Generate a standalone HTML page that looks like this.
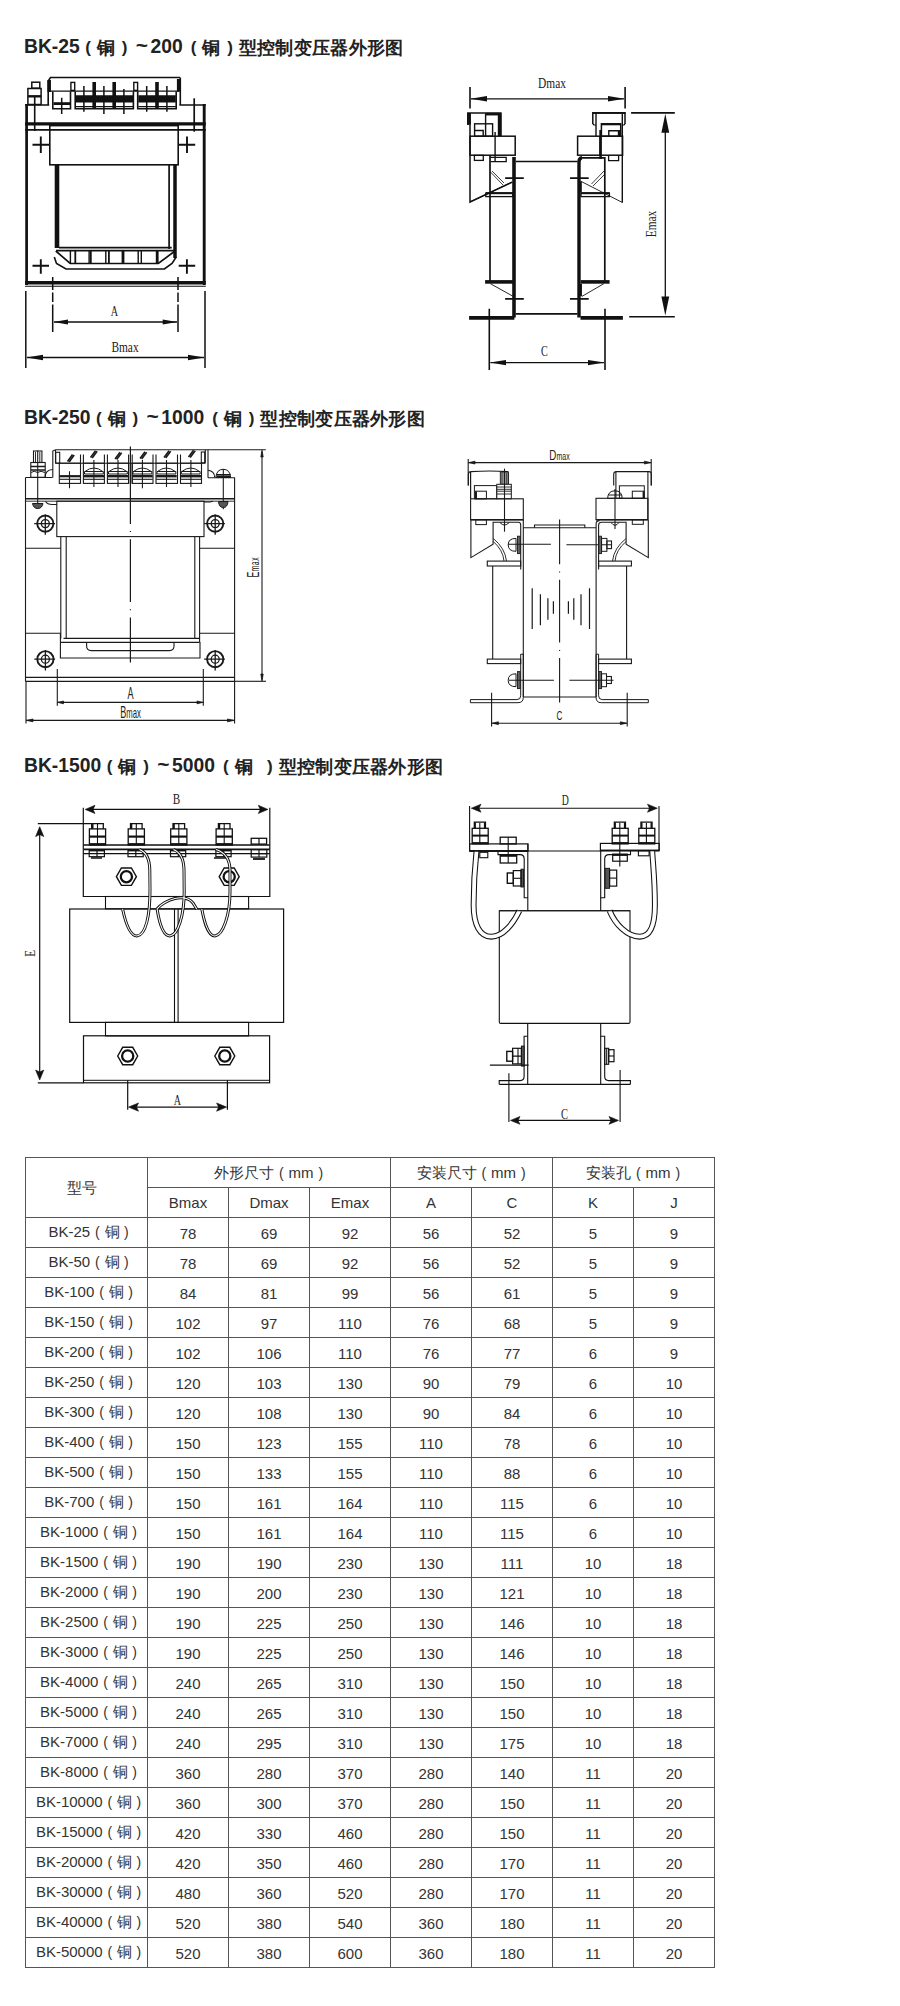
<!DOCTYPE html>
<html><head><meta charset="utf-8">
<style>
html,body{margin:0;padding:0;background:#fff;}
body{width:900px;height:2006px;position:relative;overflow:hidden;font-family:"Liberation Sans",sans-serif;color:#333;}
.h{position:absolute;left:24px;font-weight:bold;font-size:18px;line-height:20px;color:#222;white-space:nowrap;}
.h span{display:inline-block;vertical-align:top;}
.hl1{letter-spacing:0px;font-size:19.3px;}
.hc{width:18.3px;text-align:center;font-size:18.3px;position:relative;top:1px;left:1px;}
.hp{width:18.3px;text-align:center;font-size:17px;position:relative;top:1px;left:1.5px;}
.ht{font-size:21px;top:-2px;left:0.5px;}
.hl{position:absolute;height:1px;background:#555;}
.vl{position:absolute;width:1px;background:#555;}
.c{position:absolute;height:29px;line-height:29px;text-align:center;font-size:15px;color:#333;white-space:nowrap;}
.m{line-height:27px;padding-left:9px;box-sizing:border-box;}
.hd{padding-left:4px;box-sizing:border-box;}
.tp{display:inline-block;width:14.5px;text-align:center;font-size:14px;}
.tc{display:inline-block;width:14.5px;text-align:center;font-size:14.5px;}
.n{line-height:31px;}
svg{position:absolute;left:0;top:0;}
</style></head><body>
<div class="h" style="top:37px"><span class="hl1" style="width:53.34px">BK-25</span><span class="hp">(</span><span class="hc">铜</span><span class="hp">)</span><span class="hp ht">~</span><span class="hl1" style="width:32.31px">200</span><span class="hp">(</span><span class="hc">铜</span><span class="hp">)</span><span class="hc">型</span><span class="hc">控</span><span class="hc">制</span><span class="hc">变</span><span class="hc">压</span><span class="hc">器</span><span class="hc">外</span><span class="hc">形</span><span class="hc">图</span></div>
<div class="h" style="top:408px"><span class="hl1" style="width:64.11px">BK-250</span><span class="hp">(</span><span class="hc">铜</span><span class="hp">)</span><span class="hp ht">~</span><span class="hl1" style="width:43.08px">1000</span><span class="hp">(</span><span class="hc">铜</span><span class="hp">)</span><span class="hc">型</span><span class="hc">控</span><span class="hc">制</span><span class="hc">变</span><span class="hc">压</span><span class="hc">器</span><span class="hc">外</span><span class="hc">形</span><span class="hc">图</span></div>
<div class="h" style="top:756px"><span class="hl1" style="width:74.88px">BK-1500</span><span class="hp">(</span><span class="hc">铜</span><span class="hp">)</span><span class="hp ht">~</span><span class="hl1" style="width:43.08px">5000</span><span class="hp">(</span><span class="hc">铜</span><span class="hp" style="width:7.5px"></span><span class="hp">)</span><span class="hc">型</span><span class="hc">控</span><span class="hc">制</span><span class="hc">变</span><span class="hc">压</span><span class="hc">器</span><span class="hc">外</span><span class="hc">形</span><span class="hc">图</span></div>
<svg width="900" height="1150" viewBox="0 0 900 1150"><g stroke="#111" fill="none" stroke-linecap="butt">
<!-- outer frame -->
<path d="M26.6,104 V285" stroke-width="2.7"/>
<path d="M204.2,104 V285" stroke-width="2.9"/>
<path d="M25,104.9 H49.2 M179.4,104.9 H205.8" stroke-width="1.5"/>
<path d="M25,123.9 H205.8" stroke-width="3.4"/>
<path d="M25,129.8 H205.8" stroke-width="1.7"/>
<path d="M25,282.8 H205.8" stroke-width="3.4"/>
<path d="M25,286.2 H205.8" stroke-width="1.1"/>
<!-- inner verticals in frame top -->
<path d="M34.7,97 V131" stroke-width="1.6"/>
<path d="M194.2,98.3 V131.7" stroke-width="1.7"/>
<!-- small left terminal -->
<rect x="31.8" y="82.2" width="8" height="6" stroke-width="1.5"/>
<rect x="27.9" y="88.5" width="13.2" height="16" stroke-width="1.5"/>
<path d="M27.9,96.3 H41.1" stroke-width="2.4"/>
<!-- terminal block -->
<path d="M48.2,104.9 V81 L50.5,77.5 H180" stroke-width="1.6"/>
<path d="M180.3,104.9 V77.5" stroke-width="1.6"/>
<path d="M178.9,79 V91.7" stroke-width="4"/>
<path d="M49.2,80 V92" stroke-width="3.5"/>
<path d="M50,91.2 H179" stroke-width="1.2"/>
<!-- slots -->
<path d="M52.8,91.5 V108.7 H70.5 V91.5" stroke-width="1.6"/>
<path d="M75.2,91.5 V108.7 H133.4 V91.5" stroke-width="1.6"/>
<path d="M137.7,91.5 V108.7 H176.2 V91.5" stroke-width="1.6"/>
<path d="M53.5,103.6 H70" stroke-width="2.8"/>
<path d="M75.8,98.8 H133 M138.3,98.8 H175.8" stroke-width="7.2"/>
<path d="M75.8,106.6 H133 M138.3,106.6 H175.8" stroke-width="1.2"/>
<rect x="70.9" y="82.4" width="3.8" height="8" stroke-width="1.4"/>
<rect x="133.8" y="82.4" width="3.8" height="8" stroke-width="1.4"/>
<path d="M94.2,82 V108.5 M114.2,82 V108.5 M157,82 V108.5" stroke-width="3.6"/>
<path d="M61.7,97.8 V113.9 M83.9,86 V111.8 M103.9,86 V113.9 M123.9,89 V113.9 M146.7,86 V111.8 M166.9,86 V111.8" stroke-width="1.5"/>
<!-- coil -->
<rect x="49.8" y="125.6" width="128.4" height="39.2" stroke-width="1.6"/>
<path d="M57,165 V248" stroke-width="4.6"/>
<path d="M169.1,165 V249" stroke-width="1.7"/>
<path d="M175,165 V258" stroke-width="3.5"/>
<path d="M59,247.7 H171.7" stroke-width="1.8"/>
<path d="M56,250.7 H175" stroke-width="1.8"/>
<!-- bobbin -->
<path d="M55.8,251 L70.2,263.5 H158.3 L175,251" stroke-width="1.7"/>
<path d="M54.3,257 L56.5,263.5 L66,269 H164.4 L172,263.5 L176.2,257" stroke-width="1.6"/>
<path d="M70.4,251 V263.5 M89.1,251 V263.5 M105.8,251 V263.5 M138.2,251 V263.5 M141.3,251 V263.5" stroke-width="1.4"/>
<path d="M75.3,251 V263.5 M90.8,251 V263.5 M108.9,251 V263.5" stroke-width="1.8"/>
<path d="M123,251 V263.5 M157.2,251 V263.5" stroke-width="2.8"/>
<!-- crosses -->
<path d="M32.5,144.7 H49 M40.8,136.5 V153 M178.7,144.7 H195.2 M187,136.5 V153 M32.5,265.8 H49 M40.8,259.3 V273.8 M178.7,265.8 H195.2 M186.9,259.3 V273.8" stroke-width="1.9"/>
<!-- dimension A -->
<path d="M52.7,277 V290 M52.7,292.5 V302 M52.7,304.5 V332" stroke-width="1.5"/>
<path d="M178,277 V290 M178,292.5 V302 M178,304.5 V332" stroke-width="1.5"/>
<path d="M54,322 H177" stroke-width="1.3"/>
<path d="M53.5,322 L68,319.6 L68,324.4 Z M177.2,322 L162.7,319.6 L162.7,324.4 Z" fill="#111" stroke="none"/>
<!-- dimension Bmax -->
<path d="M25.8,291 V368 M205,291 V368" stroke-width="1.5"/>
<path d="M27,357.5 H204" stroke-width="1.3"/>
<path d="M26.5,357.5 L43,354.8 L43,360.2 Z M204.3,357.5 L188,354.8 L188,360.2 Z" fill="#111" stroke="none"/>
</g>
<text transform="translate(114.5,316) scale(0.85,1.3)" font-family="Liberation Serif" font-size="12" fill="#222" text-anchor="middle">A</text>
<text transform="translate(125,352) scale(0.95,1.3)" font-family="Liberation Serif" font-size="12" fill="#222" text-anchor="middle">Bmax</text>
<g stroke="#111" fill="none">
<!-- Dmax -->
<path d="M470,87 V108.6 M625.1,87 V108.6" stroke-width="1.6"/>
<path d="M471,98.8 H624" stroke-width="1.3"/>
<path d="M470.5,98.8 L487,96 L487,101.6 Z M624.6,98.8 L608,96 L608,101.6 Z" fill="#111" stroke="none"/>
<!-- Emax -->
<path d="M631.1,112.9 H674.8 M629.2,316.7 H674.8" stroke-width="1.6"/>
<path d="M665.3,130 V298" stroke-width="1.3"/>
<path d="M665.3,113.8 L661.4,132.7 H669.2 Z M665.3,315.6 L661.4,296.6 H669.2 Z" fill="#111" stroke="none"/>
<!-- left post cap -->
<path d="M467.9,125 V113 H500.8 V136" stroke-width="1.7"/>
<path d="M469.1,113 V124.6" stroke-width="3.5"/>
<path d="M499.6,113 V136" stroke-width="3.6"/>
<path d="M485.6,137 V114 H499" stroke-width="1.4"/>
<path d="M486,114.2 H499" stroke-width="2.5"/>
<rect x="474.6" y="123.8" width="18" height="12.4" stroke-width="1.4"/>
<path d="M474.6,130.5 H483.2 V136" stroke-width="1.4"/>
<path d="M495.1,132 V161.6" stroke-width="1.4"/>
<!-- left post main box -->
<rect x="470" y="136.2" width="45.2" height="19" stroke-width="1.5"/>
<path d="M470,113 V202 L512.2,182.1" stroke-width="1.5"/>
<path d="M470,202 L512.2,182.1" stroke-width="0.9"/>
<rect x="474.4" y="155.4" width="8.9" height="5" stroke-width="1.3"/>
<path d="M490,157.4 H506.2 V161.6 H490.4" stroke-width="1.3"/>
<path d="M490,155 V281" stroke-width="1.7"/>
<path d="M514,157 V317.5" stroke-width="3.6"/>
<path d="M490.5,172 L503,185 M492,171 L504,183" stroke-width="0.8"/>
<rect x="485.8" y="193" width="27" height="3.6" stroke-width="1.3"/>
<path d="M486,193.2 H513" stroke-width="2"/>
<path d="M505.1,178.1 H523.8 M505.1,298.8 H523.8" stroke-width="1.7"/>
<path d="M485.1,281.9 H514" stroke-width="3.6"/>
<path d="M490.4,283.7 L512.7,296.1" stroke-width="0.9"/>
<path d="M469.1,317.9 H514.4" stroke-width="3.6"/>
<!-- center lines -->
<path d="M515.8,161.5 H577.6 M515.8,313.9 H577.6" stroke-width="1.7"/>
<!-- right post cap -->
<path d="M592.8,124 V113 H625 V124" stroke-width="1.5"/>
<path d="M592.2,112.9 H625.6" stroke-width="1.8"/>
<path d="M596,113 V136 M622.3,113 V202.6" stroke-width="1.4"/>
<path d="M592.8,124 L594,125 H596 M625,124 L624,125 H622.3" stroke-width="1.2"/>
<rect x="601.4" y="123.8" width="19.3" height="12.4" stroke-width="1.5"/>
<path d="M601.4,124.3 H620.7" stroke-width="2"/>
<path d="M608.8,136 V130.8 H619.8 V136" stroke-width="1.4"/>
<path d="M619,131 V136" stroke-width="2.4"/>
<path d="M600.6,130 V159" stroke-width="2.6"/>
<rect x="577.6" y="136.2" width="45" height="19" stroke-width="1.5"/>
<path d="M600,136.2 V155.2" stroke-width="1.4"/>
<path d="M608.6,155.4 V160.6 H618.6 V155.4" stroke-width="1.3"/>
<path d="M582,157.8 H604.8 V281" stroke-width="1.7"/>
<path d="M579,317.5 V162 Q579,158 582,157.8" stroke-width="3.4"/>
<path d="M622.6,202.6 L580.7,181.2" stroke-width="0.9"/>
<path d="M580.7,181.5 V192" stroke-width="2.2"/>
<path d="M604,171 L591.5,184 M604,175 L593,186" stroke-width="0.8"/>
<rect x="581" y="193" width="28.4" height="3.6" stroke-width="1.3"/>
<path d="M581,193.2 H609.4" stroke-width="2"/>
<path d="M570,178.1 H588.7 M570,298.8 H588.7" stroke-width="1.7"/>
<path d="M580.7,281.9 H609.6" stroke-width="3.6"/>
<path d="M603.8,283.7 L581.6,296.6" stroke-width="0.9"/>
<path d="M580.7,296 V284" stroke-width="2.5"/>
<path d="M580.5,317.9 H622.9" stroke-width="3.6"/>
<!-- C dim -->
<path d="M489.3,308.8 V370 M605,308.8 V370" stroke-width="1.6"/>
<path d="M490.5,362.6 H604" stroke-width="1.3"/>
<path d="M489.8,362.6 L506,360 L506,365.2 Z M604.5,362.6 L588,360 L588,365.2 Z" fill="#111" stroke="none"/>
</g>
<text transform="translate(552,88) scale(0.95,1.3)" font-family="Liberation Serif" font-size="12" fill="#222" text-anchor="middle">Dmax</text>
<text transform="translate(544.5,356) scale(0.85,1.3)" font-family="Liberation Serif" font-size="12" fill="#222" text-anchor="middle">C</text>
<text transform="translate(655.8,224) rotate(-90) scale(0.95,1.3)" font-family="Liberation Serif" font-size="12" fill="#222" text-anchor="middle">Emax</text>
<g stroke="#1a1a1a" fill="none" stroke-width="1.1">
<!-- top line -->
<path d="M55.5,449.8 H265.8"/>
<!-- frame -->
<path d="M25.5,477.5 V681.5 M234.6,477.5 V723.5"/>
<path d="M25.5,477.5 H52.6 M208,477.8 H234.6"/>
<path d="M25.5,498.7 H234.6" stroke-width="1.6"/>
<path d="M25.5,501.2 H234.6" stroke-width="0.9"/>
<path d="M25.5,548.2 H60.8 M199.6,548.2 H234.6 M25.5,633.2 H60.8 M199.6,633.2 H234.6"/>
<path d="M25.5,677.4 H234.6 M25.5,681.4 H234.6" stroke-width="1.2"/>
<!-- terminal block -->
<path d="M52.8,477.5 V451 L55.5,449.8 M55.5,449.8 V463.2 M208,449.8 V477.8 M205.3,450 V463.2"/>
<path d="M55.5,463.2 H205.3"/>
<rect x="55.7" y="452.3" width="4" height="10.8"/>
<rect x="201.3" y="452" width="3.4" height="10.8"/>
<rect x="59.3" y="463.2" width="21.2" height="20.2"/>
<rect x="83.4" y="463.2" width="21" height="20.2"/>
<rect x="107.4" y="463.2" width="21.2" height="20.2"/>
<rect x="132.2" y="463.2" width="20.8" height="20.2"/>
<rect x="156" y="463.2" width="21.5" height="20.2"/>
<rect x="180.5" y="463.2" width="21" height="20.2"/>
<path d="M80.5,454.5 V463.2 M83.4,454.5 V463.2 M104.4,454.5 V463.2 M107.4,454.5 V463.2 M128.6,454.5 V483.4 M132.2,454.5 V483.4 M153,454.5 V463.2 M156,454.5 V463.2 M177.5,454.5 V463.2 M180.5,454.5 V463.2"/>
<path d="M59.5,476.2 H80.3" stroke-width="2.2"/>
<path d="M59.5,479.3 H80.3"/>
<g id="th">
<path d="M85,471.5 Q93.9,464.5 102.8,471.5 Z M84.5,471.5 H103.3 V474 H84.5 Z" stroke-width="1"/>
<path d="M83.6,476.2 H104.2" stroke-width="2.4"/>
<path d="M83.6,479.3 H104.2"/>
</g>
<use href="#th" x="24"/>
<use href="#th" x="48.5"/>
<use href="#th" x="72.5"/>
<use href="#th" x="96.8"/>
<path d="M69.5,471.3 V488.3 M93.9,460 V487 M118,460 V487 M142.4,460 V488.3 M166.5,460 V487 M190.9,460 V487"/>
<!-- hatches -->
<path d="M67.5,461.5 L72.5,454.5 M69.2,462 L74.2,455 M90.5,457.5 L95.5,450.8 M92.2,458 L97.2,451.3 M115,459 L120,452.3 M116.7,459.5 L121.7,452.8 M140,458.5 L145,451.8 M141.7,459 L146.7,452.3 M164,457.5 L169,450.8 M165.7,458 L170.7,451.3 M188.5,457 L193.5,450.3 M190.2,457.5 L195.2,450.8" stroke-width="1.5"/>
<!-- left bolt -->
<path d="M37.7,450.4 V509"/>
<rect x="33.5" y="451" width="8.4" height="11.5" stroke-width="1.1"/>
<path d="M35.5,452 V462 M39.8,452 V462" stroke-width="0.9"/>
<rect x="30.8" y="462.5" width="14.4" height="14.8"/>
<path d="M30.8,466.5 H45.2 M30.8,470 H45.2" stroke-width="1.4"/>
<path d="M31.2,472.5 Q34,470 37.5,472.5 Q41,470 44.8,472.5" stroke-width="1"/>
<path d="M32.5,503.5 H43 Q42,508.5 37.7,508.5 Q33.5,508.5 32.5,503.5 Z" fill="#555" stroke-width="1"/>
<path d="M45.2,477 Q45.2,470 52.6,469.5"/>
<!-- right bolt -->
<path d="M223.3,469 V509.3"/>
<path d="M215.8,477.5 Q216.5,469.3 223.3,469.3 Q230,469.3 230.7,477.5 Z M216,474.5 H230.5" stroke-width="1"/>
<path d="M216.5,476.2 H230" stroke-width="1.8"/>
<path d="M218.5,501.5 H228 Q227.5,507.5 223.3,507.5 Q219,507.5 218.5,501.5 Z" fill="#555" stroke-width="1"/>
<path d="M208,470.3 Q214.5,471 214.7,477.5"/>
<!-- coil box -->
<rect x="56.8" y="501.2" width="147.2" height="35.4"/>
<path d="M45.5,501.5 Q47.5,504.5 52,504.5 H56.8 M204,502 H210 Q212,501.5 213,501.2"/>
<path d="M60.8,536.6 V638.5 M66.2,536.6 V638.5 M194.8,536.6 V638.5 M199.6,536.6 V642.3"/>
<path d="M63.5,638.3 H199.6" stroke-width="1.3"/>
<path d="M60.8,642.3 H199.6" stroke-width="1.2"/>
<path d="M60.4,633.2 V658 H200 V642"/>
<path d="M86.6,642.3 V646 Q86.6,650.6 91.2,650.6 H169.5 Q174,650.6 174,646 V642.3"/>
<!-- circles -->
<g id="ci">
<circle cx="45.3" cy="523.6" r="8.1" stroke-width="1.9"/>
<circle cx="45.3" cy="523.6" r="4" stroke-width="1.3"/>
<path d="M34.2,523.6 H55 M45.3,514.5 V534.8" stroke-width="1.3"/>
</g>
<use href="#ci" x="169.9"/>
<use href="#ci" x="0.1" y="135.6"/>
<use href="#ci" x="169.9" y="135.6"/>
<!-- center dash-dot -->
<path d="M130.4,446.5 V523.9 M130.4,531.1 V532.1 M130.4,539.3 V602.1 M130.4,609.3 V610.3 M130.4,617.6 V662.5" stroke-width="1.2"/>
<!-- Emax -->
<path d="M262,452 V679.5"/>
<path d="M262,450.2 L260.8,457 H263.2 Z M262,681 L260.8,674 H263.2 Z" fill="#1a1a1a" stroke-width="0.8"/>
<path d="M234.6,681.3 H266"/>
<!-- A dim -->
<path d="M57.3,669 V705.7 M203.3,669 V705.7"/>
<path d="M57.3,702.4 H203.3"/>
<path d="M58,702.4 L63.5,701 V703.8 Z M202.6,702.4 L197,701 V703.8 Z" fill="#1a1a1a" stroke-width="0.8"/>
<!-- Bmax dim -->
<path d="M26,681.5 V723.5"/>
<path d="M26,720.4 H234.6"/>
<path d="M26.7,720.4 L33,719 V721.8 Z M233.9,720.4 L227.5,719 V721.8 Z" fill="#1a1a1a" stroke-width="0.8"/>
</g>
<g font-family="Liberation Sans" fill="#222">
<text transform="translate(130.5,698.5) scale(0.55,1)" text-anchor="middle" font-size="16.5">A</text>
<text transform="translate(130.5,717.5) scale(0.55,1)" text-anchor="middle"><tspan font-size="16.5">B</tspan><tspan font-size="14">max</tspan></text>
<text transform="translate(258.6,567) rotate(-90) scale(0.55,1)" text-anchor="middle"><tspan font-size="16">E</tspan><tspan font-size="12.5" letter-spacing="1.2">max</tspan></text>
</g>
<g stroke="#1a1a1a" fill="none" stroke-width="1.1">
<!-- Dmax -->
<path d="M468.2,459 V485.4 M651.2,459 V485.4"/>
<path d="M468.2,462.6 H651.2"/>
<path d="M469,462.6 L475,461.2 V464 Z M650.4,462.6 L644.4,461.2 V464 Z" fill="#1a1a1a" stroke-width="0.8"/>
<!-- left cap -->
<path d="M468.4,485.4 V474 Q468.6,471.6 471,471.6 Q490,470.5 507.5,471.6 Q508.4,472 508.4,474 V485.6"/>
<path d="M470.6,471.6 V498.8" stroke-width="1.2"/>
<rect x="474.4" y="485.6" width="22.3" height="13.2" stroke-width="1"/>
<rect x="475.6" y="491.2" width="10.8" height="7.6" stroke-width="1"/>
<path d="M476,491.5 V498.8" stroke-width="2"/>
<!-- left bolt -->
<rect x="500.3" y="472" width="8" height="12.3" fill="#999" stroke-width="0.9"/>
<path d="M502,473 V484 M506.6,473 V484" stroke="#333" stroke-width="0.8"/>
<rect x="496.8" y="484.3" width="14.5" height="14.5" fill="#fff" stroke-width="1"/>
<path d="M496.8,487 H511.3 M496.8,489.3 H511.3 M496.8,491.2 H511.3 M496.8,494 H511.3" stroke-width="0.9"/>
<path d="M504.5,468.6 V531.7"/>
<!-- left main box -->
<rect x="470.6" y="498.8" width="52.7" height="20.9" stroke-width="1.1"/>
<path d="M470.6,519.7 H523.3" stroke-width="1.5"/>
<rect x="475.8" y="519.7" width="10.6" height="4.9" stroke-width="1"/>
<path d="M500,522.6 Q504.5,527.5 509,522.6" stroke-width="1"/>
<path d="M470.9,519.7 V557.6 L493.1,544.2 V522.3 H518.5 Q520.7,522.5 520.7,525 V569.6"/>
<path d="M523.3,519.7 V696.9"/>
<path d="M493.3,538.5 Q505,548 506.5,561 M493.3,541.5 Q503,550 504,561" stroke-width="0.9"/>
<path d="M516,538.4 Q508.2,538.4 508.2,544.8 Q508.2,551.3 516,551.3 Z" stroke-width="1"/>
<rect x="517.5" y="536.2" width="2.7" height="17.4" fill="#666" stroke-width="0.9"/>
<path d="M508.2,544.3 H550.9 M566.4,544.7 H611"/>
<rect x="487.3" y="561.1" width="33.4" height="4.9" stroke-width="1.1"/>
<path d="M492.7,566 V659.1 M626.6,566 V659.1"/>
<!-- core plate -->
<path d="M523.3,527.7 H596.1"/>
<path d="M534.5,527.7 V525 H584.8 V527.7"/>
<!-- right cap -->
<path d="M613.7,485.4 V474 Q613.9,471.6 616.3,471.6 H649 Q651.3,471.6 651.3,474 V485.4"/>
<path d="M615.9,471.6 V498.3 M647.9,471.6 V519.7" stroke-width="1.1"/>
<rect x="619.4" y="485.8" width="24.9" height="12.5" stroke-width="1"/>
<rect x="632.3" y="491.2" width="11.6" height="7.1" stroke-width="1"/>
<path d="M643.6,491.5 V498.3" stroke-width="2"/>
<path d="M607.6,498.3 Q608,490.8 615,490.8 Q622,490.8 622.2,498.3 Z M608.5,495 H621.5" stroke-width="1"/>
<path d="M615,489 V529"/>
<rect x="596" y="498.3" width="51.9" height="21.4" stroke-width="1.1"/>
<path d="M596,519.7 H647.9" stroke-width="1.5"/>
<rect x="632.3" y="519.7" width="11" height="4.6" stroke-width="1"/>
<path d="M611,522.5 Q615,528 619,522.5" stroke-width="1"/>
<path d="M596.1,696.9 V524 Q596.1,520.6 599.5,520.6"/>
<path d="M598.6,569.6 V525 Q598.8,522.3 601.5,522.3 H626.1 V544.2 L648.3,557.6 V519.7"/>
<path d="M626.1,538.5 Q614,548 612.5,561 M626.1,541.5 Q616,550 615,561" stroke-width="0.9"/>
<rect x="598.8" y="536.2" width="2.7" height="17.4" fill="#666" stroke-width="0.9"/>
<rect x="601.6" y="538.4" width="5.3" height="12.9" stroke-width="1"/>
<rect x="606.9" y="541" width="4.6" height="7.6" stroke-width="1.1"/>
<rect x="598.6" y="561.1" width="32.8" height="4.9" stroke-width="1.1"/>
<!-- hatch lines -->
<path d="M532.2,588.3 V629.1 M540.4,594.2 V625.2 M547.9,598.2 V619.7 M553.4,601.2 V613.7 M568.4,601.2 V613.7 M573.8,598.2 V619.7 M581,594.2 V625.2 M589.5,588.3 V629.1" stroke-width="1.2"/>
<!-- center line -->
<path d="M559.6,519.5 V564.3 M559.6,571.5 V572.5 M559.6,579.8 V642.6 M559.6,649.9 V650.9 M559.6,658 V702.4" stroke-width="1.1"/>
<!-- lower brackets -->
<rect x="487.3" y="659.1" width="33.4" height="4.5" stroke-width="1.1"/>
<rect x="598.6" y="659.1" width="32.8" height="4.5" stroke-width="1.1"/>
<path d="M520.7,654.2 V695.8 Q520.7,699.6 516.9,699.6 H470.4 V702.7 H518 Q523.3,702.7 523.3,697.4 V654.2 Z" stroke-width="1"/>
<path d="M598.6,654.2 V695.8 Q598.6,699.6 602.4,699.6 H648.3 V702.7 H601.3 Q596.1,702.7 596.1,697.4 V654.2 Z" stroke-width="1"/>
<path d="M523.3,697 H596.1"/>
<path d="M516,673.8 Q508.2,673.8 508.2,680.3 Q508.2,686.7 516,686.7 Z" stroke-width="1"/>
<rect x="517.5" y="671.6" width="2.7" height="17" fill="#666" stroke-width="0.9"/>
<rect x="598.8" y="671.6" width="2.7" height="17" fill="#666" stroke-width="0.9"/>
<rect x="601.6" y="673.8" width="4.9" height="12.9" stroke-width="1"/>
<rect x="606.5" y="676.5" width="4.9" height="7" stroke-width="1.1"/>
<path d="M509,680.3 H553.9 M569.4,680.3 H613.5"/>
<!-- C dim -->
<path d="M491.6,692.7 V726.4 M627.2,692.7 V726.4"/>
<path d="M491.6,723.2 H627.2"/>
<path d="M492.4,723.2 L498.4,721.8 V724.6 Z M626.4,723.2 L620.4,721.8 V724.6 Z" fill="#1a1a1a" stroke-width="0.8"/>
</g>
<g font-family="Liberation Sans" fill="#222">
<text transform="translate(559.5,460.2) scale(0.7,1)" text-anchor="middle"><tspan font-size="14">D</tspan><tspan font-size="10">max</tspan></text>
<text transform="translate(559.5,719.5) scale(0.6,1)" text-anchor="middle" font-size="13.5">C</text>
</g>
<g stroke="#111" fill="none" stroke-width="1.2">
<!-- B dim -->
<path d="M83.3,807.8 V849.4 M269.8,807.8 V849.4"/>
<path d="M90,809.4 H262"/>
<path d="M85.2,809.4 L95,805.3 L93,809.4 L95,813.5 Z M267.9,809.4 L258.3,805.3 L260.3,809.4 L258.3,813.5 Z" fill="#111" stroke-width="0.6"/>
<!-- E dim -->
<path d="M37.8,823.7 H91.7 M37.8,1082.8 H83.5"/>
<path d="M39.7,832 V1075"/>
<path d="M39.7,826.7 L35.6,836.6 L39.7,834.6 L43.8,836.6 Z M39.7,1080 L35.6,1070 L39.7,1072 L43.8,1070 Z" fill="#111" stroke-width="0.6"/>
<!-- plate -->
<path d="M83.3,845 H269.8" stroke-width="1.4"/>
<path d="M83.3,849.4 H269.8" stroke-width="1.6"/>
<path d="M83.3,853.6 H269.8" stroke-width="1.1"/>
<!-- upper block -->
<path d="M83.3,849.4 V896.5 H269.8 V849.4"/>
<!-- bolts -->
<g id="bt">
<path d="M91.7,828.9 V823.7 H103.3 V828.9" stroke-width="1.3"/>
<path d="M92.6,824 V828.9" stroke-width="1.8"/>
<rect x="89.4" y="828.9" width="16.2" height="16.1" stroke-width="1.3"/>
<path d="M97.5,824 V845" stroke-width="1.1"/>
<path d="M89.4,836.6 H105.6" stroke-width="2.2"/>
<path d="M89.4,844 H105.6" stroke-width="1.8"/>
<rect x="89.2" y="849.6" width="15.2" height="7.1" stroke-width="1.2"/>
<path d="M97,849.6 V856.7"/>
<path d="M89.2,850.5 H104.4" stroke-width="1.8"/>
</g>
<use href="#bt" x="38.8"/>
<use href="#bt" x="81.3"/>
<use href="#bt" x="126.7"/>
<path d="M91,858 H102 M214,858 H227" stroke-width="1.5"/>
<!-- small bolt 5 -->
<rect x="251.2" y="838.3" width="15.4" height="5.8" stroke-width="1.3"/>
<path d="M259,838.3 V844"/>
<rect x="251.2" y="849.6" width="15.6" height="7.5" stroke-width="1.2"/>
<path d="M259,849.6 V857 M251.2,853.6 H266.8" stroke-width="1.1"/>
<path d="M253,859 H265" stroke-width="1.8"/>
<!-- hex nuts -->
<g id="hx">
<path d="M116.4,876.7 L121.4,868 H131.4 L136.4,876.7 L131.4,885.4 H121.4 Z" stroke-width="1.4"/>
<circle cx="126.4" cy="876.7" r="5.6" stroke-width="2.3"/>
</g>
<use href="#hx" x="102.8"/>
<!-- mid block + core -->
<rect x="105.5" y="896.5" width="143.1" height="12.3" stroke-width="1.1"/>
<rect x="69.7" y="909" width="213.9" height="113.4" stroke-width="1.2"/>
<path d="M174.5,909 V1022.4 M178.1,909 V1022.4" stroke-width="1.1"/>
<rect x="105.5" y="1022.4" width="143.1" height="13.5" stroke-width="1.1"/>
<rect x="83.5" y="1035.8" width="186.1" height="47" stroke-width="1.2"/>
<path d="M83.5,1080.3 H269.6" stroke-width="1"/>
<use href="#hx" x="1.3" y="179.3"/>
<use href="#hx" x="98.4" y="179.3"/>
<!-- A dim -->
<path d="M127.7,1080.3 V1109.7 M227.4,1080.3 V1109.7"/>
<path d="M134,1107.1 H221"/>
<path d="M128.5,1107.1 L138.5,1103 L136.5,1107.1 L138.5,1111.2 Z M226.6,1107.1 L216.6,1103 L218.6,1107.1 L216.6,1111.2 Z" fill="#111" stroke-width="0.6"/>
</g>
<!-- wires -->
<g fill="none" stroke-linecap="butt">
<g id="wires" stroke="#111" stroke-width="3">
<path d="M139.5,849.4 C146,852 149.6,858 149.8,870 L150,890 C150,915 146,935 137,936 C129,936 124.5,918 122.6,909"/>
<path d="M173.5,849.4 C180,852 183.8,858 184,870 L184.2,892 C184.2,915 178,935 170,936 C162,936 158.5,918 157.1,909 C160,905 168,900 175,898.5 C182,897 188,897 193,903 L196.7,909"/>
<path d="M216,849.4 C224,852 229.8,858 230,870 L230,892 C230,915 223,935 215,936 C207,936 203.5,918 201.8,909"/>
</g>
<g stroke="#fff" stroke-width="1.1">
<path d="M139.5,849.4 C146,852 149.6,858 149.8,870 L150,890 C150,915 146,935 137,936 C129,936 124.5,918 122.6,909"/>
<path d="M173.5,849.4 C180,852 183.8,858 184,870 L184.2,892 C184.2,915 178,935 170,936 C162,936 158.5,918 157.1,909 C160,905 168,900 175,898.5 C182,897 188,897 193,903 L196.7,909"/>
<path d="M216,849.4 C224,852 229.8,858 230,870 L230,892 C230,915 223,935 215,936 C207,936 203.5,918 201.8,909"/>
</g>
</g>
<g font-family="Liberation Serif" fill="#222">
<text transform="translate(176.5,804) scale(0.8,1)" text-anchor="middle" font-size="14">B</text>
<text transform="translate(177.5,1105) scale(0.75,1.1)" text-anchor="middle" font-size="13.5">A</text>
<text transform="translate(35,953.3) rotate(-90) scale(0.8,1)" text-anchor="middle" font-size="14">E</text>
</g>
<g stroke="#111" fill="none" stroke-width="1.1">
<!-- D dim -->
<path d="M469.6,806 V851 M659,806 V850.6"/>
<path d="M476,808.2 H653"/>
<path d="M471.3,808.2 L481,804.2 L479,808.2 L481,812.2 Z M657.3,808.2 L647.5,804.2 L649.5,808.2 L647.5,812.2 Z" fill="#111" stroke-width="0.6"/>
<!-- plates -->
<rect x="469.6" y="843.9" width="58.4" height="7.1" stroke-width="1.2"/>
<path d="M469.6,851 H528" stroke-width="1.5"/>
<rect x="600.4" y="843.4" width="58.8" height="7.2" stroke-width="1.2"/>
<path d="M600.4,850.6 H659.2" stroke-width="1.5"/>
<!-- center box -->
<path d="M528,851 H600.4"/>
<path d="M527.8,843.9 V910.7 M600.7,850.6 V910.7"/>
<!-- bolts on plates -->
<g id="b6">
<path d="M474.4,828.3 V822.1 H485.4 V828.3" stroke-width="1.4"/>
<path d="M475.2,822.5 V828.3 M484.6,822.5 V828.3" stroke-width="1.4"/>
<rect x="472.2" y="828.3" width="16" height="15.6" stroke-width="1.3"/>
<path d="M472.2,835.6 H488.2" stroke-width="2"/>
<path d="M472.2,843 H488.2" stroke-width="1.8"/>
<path d="M479.8,823 V843.9"/>
</g>
<use href="#b6" x="140"/>
<use href="#b6" x="166.6"/>
<!-- short bolt left -->
<rect x="500.2" y="837.2" width="16" height="6.7" stroke-width="1.3"/>
<path d="M508.2,837.2 V863"/>
<rect x="500.2" y="855" width="16.5" height="8" stroke-width="1.3"/>
<path d="M500.2,855.8 H516.7" stroke-width="2"/>
<rect x="479.8" y="852.3" width="8" height="5.4" stroke-width="1.1"/>
<!-- left bracket -->
<path d="M498,851 V854.6 H520 Q524.2,854.6 524.2,859 V897.8 H527.8"/>
<!-- left side bolt -->
<rect x="521" y="869.2" width="2.5" height="17.8" fill="#555" stroke-width="0.9"/>
<rect x="513.3" y="870.6" width="7.7" height="15.4" stroke-width="1.2"/>
<path d="M513.3,878.3 H521"/>
<rect x="507.3" y="873" width="6" height="10.3" stroke-width="1.4"/>
<!-- right side: under plate -->
<rect x="612.7" y="854.1" width="14.6" height="7.1" stroke-width="1.2"/>
<path d="M612.7,855 H627.3" stroke-width="1.8"/>
<path d="M619.8,843.4 V866.6"/>
<path d="M630.5,850.6 V854.6 H609 Q604.7,854.6 604.7,859 V897.8 H600.7"/>
<rect x="638.4" y="850.6" width="10.7" height="5.2" stroke-width="1.1"/>
<rect x="605.1" y="868.3" width="4.5" height="20" fill="#555" stroke-width="0.9"/>
<rect x="609.6" y="870.1" width="7.1" height="16" stroke-width="1.2"/>
<path d="M609.6,878.1 H616.7"/>
<!-- core -->
<path d="M499.3,1022 V910.7 H630 V1022 Q630,1023.4 628.6,1023.4 H500.7 Q499.3,1023.4 499.3,1022"/>
<!-- lower center box -->
<path d="M527.7,1023.4 V1084.3 M600.7,1023.4 V1084.3"/>
<path d="M499.2,1084.3 H630.4" stroke-width="1.3"/>
<!-- lower left bracket -->
<path d="M527.7,1036.3 H524.1 V1076.6 Q524.1,1080.6 520.1,1080.6 H499.2 V1084.3"/>
<rect x="521.4" y="1046.1" width="2.7" height="20" fill="#555" stroke-width="0.9"/>
<rect x="512.6" y="1048.3" width="8.8" height="15.6" stroke-width="1.2"/>
<path d="M512.6,1056.1 H521.4 M518,1048.3 V1063.9"/>
<rect x="506.8" y="1051.4" width="5.8" height="9.8" stroke-width="1.4"/>
<path d="M489.9,1065.2 H528.6" stroke-width="1.3"/>
<!-- lower right bracket -->
<path d="M600.7,1036.3 H604.7 V1076.6 Q604.7,1080.6 608.7,1080.6 H630.4 V1084.3"/>
<rect x="604.7" y="1048.3" width="4" height="16" stroke-width="1.1"/>
<path d="M606.7,1048.3 V1064.3"/>
<rect x="608.7" y="1049.7" width="5.3" height="12" stroke-width="1.2"/>
<path d="M608.7,1056 H614"/>
<!-- C dim -->
<path d="M508.9,1073.2 V1122 M620.1,1070.1 V1122"/>
<path d="M515,1120.4 H614"/>
<path d="M510.5,1120.4 L520,1116.5 L518,1120.4 L520,1124.3 Z M618.5,1120.4 L609,1116.5 L611,1120.4 L609,1124.3 Z" fill="#111" stroke-width="0.6"/>
</g>
<!-- wires -->
<g fill="none">
<g stroke="#111" stroke-width="5.9">
<path d="M476.5,851 C475,865 473.6,880 473.6,905 C473.6,925 480,936.7 491.3,936.7 C503,936.7 513,924 519.4,910.7"/>
<path d="M652.2,850.6 C653,865 654.9,880 654.9,905 C654.9,925 650,936.7 639.8,936.7 C627,936.7 615,924 609.6,910.7"/>
</g>
<g stroke="#fff" stroke-width="3.8">
<path d="M476.5,851 C475,865 473.6,880 473.6,905 C473.6,925 480,936.7 491.3,936.7 C503,936.7 513,924 519.4,910.7"/>
<path d="M652.2,850.6 C653,865 654.9,880 654.9,905 C654.9,925 650,936.7 639.8,936.7 C627,936.7 615,924 609.6,910.7"/>
</g>
<path d="M469.6,851 H528 M600.4,850.6 H659.2" stroke="#111" stroke-width="1.5"/>
<path d="M499.3,910.7 H630" stroke="#111" stroke-width="1.1"/>
</g>
<g font-family="Liberation Serif" fill="#222">
<text transform="translate(565.2,805) scale(0.7,1)" text-anchor="middle" font-size="14">D</text>
<text transform="translate(564.6,1119) scale(0.75,1.05)" text-anchor="middle" font-size="14">C</text>
</g>
</svg>
<div class="hl" style="left:25px;top:1157px;width:690px"></div>
<div class="hl" style="left:147px;top:1187px;width:568px"></div>
<div class="hl" style="left:25px;top:1217px;width:690px"></div>
<div class="hl" style="left:25px;top:1247px;width:690px"></div>
<div class="hl" style="left:25px;top:1277px;width:690px"></div>
<div class="hl" style="left:25px;top:1307px;width:690px"></div>
<div class="hl" style="left:25px;top:1337px;width:690px"></div>
<div class="hl" style="left:25px;top:1367px;width:690px"></div>
<div class="hl" style="left:25px;top:1397px;width:690px"></div>
<div class="hl" style="left:25px;top:1427px;width:690px"></div>
<div class="hl" style="left:25px;top:1457px;width:690px"></div>
<div class="hl" style="left:25px;top:1487px;width:690px"></div>
<div class="hl" style="left:25px;top:1517px;width:690px"></div>
<div class="hl" style="left:25px;top:1547px;width:690px"></div>
<div class="hl" style="left:25px;top:1577px;width:690px"></div>
<div class="hl" style="left:25px;top:1607px;width:690px"></div>
<div class="hl" style="left:25px;top:1637px;width:690px"></div>
<div class="hl" style="left:25px;top:1667px;width:690px"></div>
<div class="hl" style="left:25px;top:1697px;width:690px"></div>
<div class="hl" style="left:25px;top:1727px;width:690px"></div>
<div class="hl" style="left:25px;top:1757px;width:690px"></div>
<div class="hl" style="left:25px;top:1787px;width:690px"></div>
<div class="hl" style="left:25px;top:1817px;width:690px"></div>
<div class="hl" style="left:25px;top:1847px;width:690px"></div>
<div class="hl" style="left:25px;top:1877px;width:690px"></div>
<div class="hl" style="left:25px;top:1907px;width:690px"></div>
<div class="hl" style="left:25px;top:1937px;width:690px"></div>
<div class="hl" style="left:25px;top:1967px;width:690px"></div>
<div class="vl" style="left:25px;top:1157px;height:811px"></div>
<div class="vl" style="left:147px;top:1157px;height:811px"></div>
<div class="vl" style="left:228px;top:1187px;height:781px"></div>
<div class="vl" style="left:309px;top:1187px;height:781px"></div>
<div class="vl" style="left:390px;top:1157px;height:811px"></div>
<div class="vl" style="left:471px;top:1187px;height:781px"></div>
<div class="vl" style="left:552px;top:1157px;height:811px"></div>
<div class="vl" style="left:633px;top:1187px;height:781px"></div>
<div class="vl" style="left:714px;top:1157px;height:811px"></div>
<div class="c" style="left:21px;top:1173px;width:121px">型号</div>
<div class="c hd" style="left:148px;top:1158px;width:242px">外形尺寸<span class="tp">(</span>mm<span class="tp">)</span></div>
<div class="c hd" style="left:391px;top:1158px;width:161px">安装尺寸<span class="tp">(</span>mm<span class="tp">)</span></div>
<div class="c hd" style="left:553px;top:1158px;width:161px">安装孔<span class="tp">(</span>mm<span class="tp">)</span></div>
<div class="c" style="left:148px;top:1188px;width:80px">Bmax</div>
<div class="c" style="left:229px;top:1188px;width:80px">Dmax</div>
<div class="c" style="left:310px;top:1188px;width:80px">Emax</div>
<div class="c" style="left:391px;top:1188px;width:80px">A</div>
<div class="c" style="left:472px;top:1188px;width:80px">C</div>
<div class="c" style="left:553px;top:1188px;width:80px">K</div>
<div class="c" style="left:634px;top:1188px;width:80px">J</div>
<div class="c m" style="left:26px;top:1218px;width:121px">BK-25<span class="tp">(</span><span class="tc">铜</span><span class="tp">)</span></div>
<div class="c n" style="left:148px;top:1218px;width:80px">78</div>
<div class="c n" style="left:229px;top:1218px;width:80px">69</div>
<div class="c n" style="left:310px;top:1218px;width:80px">92</div>
<div class="c n" style="left:391px;top:1218px;width:80px">56</div>
<div class="c n" style="left:472px;top:1218px;width:80px">52</div>
<div class="c n" style="left:553px;top:1218px;width:80px">5</div>
<div class="c n" style="left:634px;top:1218px;width:80px">9</div>
<div class="c m" style="left:26px;top:1248px;width:121px">BK-50<span class="tp">(</span><span class="tc">铜</span><span class="tp">)</span></div>
<div class="c n" style="left:148px;top:1248px;width:80px">78</div>
<div class="c n" style="left:229px;top:1248px;width:80px">69</div>
<div class="c n" style="left:310px;top:1248px;width:80px">92</div>
<div class="c n" style="left:391px;top:1248px;width:80px">56</div>
<div class="c n" style="left:472px;top:1248px;width:80px">52</div>
<div class="c n" style="left:553px;top:1248px;width:80px">5</div>
<div class="c n" style="left:634px;top:1248px;width:80px">9</div>
<div class="c m" style="left:26px;top:1278px;width:121px">BK-100<span class="tp">(</span><span class="tc">铜</span><span class="tp">)</span></div>
<div class="c n" style="left:148px;top:1278px;width:80px">84</div>
<div class="c n" style="left:229px;top:1278px;width:80px">81</div>
<div class="c n" style="left:310px;top:1278px;width:80px">99</div>
<div class="c n" style="left:391px;top:1278px;width:80px">56</div>
<div class="c n" style="left:472px;top:1278px;width:80px">61</div>
<div class="c n" style="left:553px;top:1278px;width:80px">5</div>
<div class="c n" style="left:634px;top:1278px;width:80px">9</div>
<div class="c m" style="left:26px;top:1308px;width:121px">BK-150<span class="tp">(</span><span class="tc">铜</span><span class="tp">)</span></div>
<div class="c n" style="left:148px;top:1308px;width:80px">102</div>
<div class="c n" style="left:229px;top:1308px;width:80px">97</div>
<div class="c n" style="left:310px;top:1308px;width:80px">110</div>
<div class="c n" style="left:391px;top:1308px;width:80px">76</div>
<div class="c n" style="left:472px;top:1308px;width:80px">68</div>
<div class="c n" style="left:553px;top:1308px;width:80px">5</div>
<div class="c n" style="left:634px;top:1308px;width:80px">9</div>
<div class="c m" style="left:26px;top:1338px;width:121px">BK-200<span class="tp">(</span><span class="tc">铜</span><span class="tp">)</span></div>
<div class="c n" style="left:148px;top:1338px;width:80px">102</div>
<div class="c n" style="left:229px;top:1338px;width:80px">106</div>
<div class="c n" style="left:310px;top:1338px;width:80px">110</div>
<div class="c n" style="left:391px;top:1338px;width:80px">76</div>
<div class="c n" style="left:472px;top:1338px;width:80px">77</div>
<div class="c n" style="left:553px;top:1338px;width:80px">6</div>
<div class="c n" style="left:634px;top:1338px;width:80px">9</div>
<div class="c m" style="left:26px;top:1368px;width:121px">BK-250<span class="tp">(</span><span class="tc">铜</span><span class="tp">)</span></div>
<div class="c n" style="left:148px;top:1368px;width:80px">120</div>
<div class="c n" style="left:229px;top:1368px;width:80px">103</div>
<div class="c n" style="left:310px;top:1368px;width:80px">130</div>
<div class="c n" style="left:391px;top:1368px;width:80px">90</div>
<div class="c n" style="left:472px;top:1368px;width:80px">79</div>
<div class="c n" style="left:553px;top:1368px;width:80px">6</div>
<div class="c n" style="left:634px;top:1368px;width:80px">10</div>
<div class="c m" style="left:26px;top:1398px;width:121px">BK-300<span class="tp">(</span><span class="tc">铜</span><span class="tp">)</span></div>
<div class="c n" style="left:148px;top:1398px;width:80px">120</div>
<div class="c n" style="left:229px;top:1398px;width:80px">108</div>
<div class="c n" style="left:310px;top:1398px;width:80px">130</div>
<div class="c n" style="left:391px;top:1398px;width:80px">90</div>
<div class="c n" style="left:472px;top:1398px;width:80px">84</div>
<div class="c n" style="left:553px;top:1398px;width:80px">6</div>
<div class="c n" style="left:634px;top:1398px;width:80px">10</div>
<div class="c m" style="left:26px;top:1428px;width:121px">BK-400<span class="tp">(</span><span class="tc">铜</span><span class="tp">)</span></div>
<div class="c n" style="left:148px;top:1428px;width:80px">150</div>
<div class="c n" style="left:229px;top:1428px;width:80px">123</div>
<div class="c n" style="left:310px;top:1428px;width:80px">155</div>
<div class="c n" style="left:391px;top:1428px;width:80px">110</div>
<div class="c n" style="left:472px;top:1428px;width:80px">78</div>
<div class="c n" style="left:553px;top:1428px;width:80px">6</div>
<div class="c n" style="left:634px;top:1428px;width:80px">10</div>
<div class="c m" style="left:26px;top:1458px;width:121px">BK-500<span class="tp">(</span><span class="tc">铜</span><span class="tp">)</span></div>
<div class="c n" style="left:148px;top:1458px;width:80px">150</div>
<div class="c n" style="left:229px;top:1458px;width:80px">133</div>
<div class="c n" style="left:310px;top:1458px;width:80px">155</div>
<div class="c n" style="left:391px;top:1458px;width:80px">110</div>
<div class="c n" style="left:472px;top:1458px;width:80px">88</div>
<div class="c n" style="left:553px;top:1458px;width:80px">6</div>
<div class="c n" style="left:634px;top:1458px;width:80px">10</div>
<div class="c m" style="left:26px;top:1488px;width:121px">BK-700<span class="tp">(</span><span class="tc">铜</span><span class="tp">)</span></div>
<div class="c n" style="left:148px;top:1488px;width:80px">150</div>
<div class="c n" style="left:229px;top:1488px;width:80px">161</div>
<div class="c n" style="left:310px;top:1488px;width:80px">164</div>
<div class="c n" style="left:391px;top:1488px;width:80px">110</div>
<div class="c n" style="left:472px;top:1488px;width:80px">115</div>
<div class="c n" style="left:553px;top:1488px;width:80px">6</div>
<div class="c n" style="left:634px;top:1488px;width:80px">10</div>
<div class="c m" style="left:26px;top:1518px;width:121px">BK-1000<span class="tp">(</span><span class="tc">铜</span><span class="tp">)</span></div>
<div class="c n" style="left:148px;top:1518px;width:80px">150</div>
<div class="c n" style="left:229px;top:1518px;width:80px">161</div>
<div class="c n" style="left:310px;top:1518px;width:80px">164</div>
<div class="c n" style="left:391px;top:1518px;width:80px">110</div>
<div class="c n" style="left:472px;top:1518px;width:80px">115</div>
<div class="c n" style="left:553px;top:1518px;width:80px">6</div>
<div class="c n" style="left:634px;top:1518px;width:80px">10</div>
<div class="c m" style="left:26px;top:1548px;width:121px">BK-1500<span class="tp">(</span><span class="tc">铜</span><span class="tp">)</span></div>
<div class="c n" style="left:148px;top:1548px;width:80px">190</div>
<div class="c n" style="left:229px;top:1548px;width:80px">190</div>
<div class="c n" style="left:310px;top:1548px;width:80px">230</div>
<div class="c n" style="left:391px;top:1548px;width:80px">130</div>
<div class="c n" style="left:472px;top:1548px;width:80px">111</div>
<div class="c n" style="left:553px;top:1548px;width:80px">10</div>
<div class="c n" style="left:634px;top:1548px;width:80px">18</div>
<div class="c m" style="left:26px;top:1578px;width:121px">BK-2000<span class="tp">(</span><span class="tc">铜</span><span class="tp">)</span></div>
<div class="c n" style="left:148px;top:1578px;width:80px">190</div>
<div class="c n" style="left:229px;top:1578px;width:80px">200</div>
<div class="c n" style="left:310px;top:1578px;width:80px">230</div>
<div class="c n" style="left:391px;top:1578px;width:80px">130</div>
<div class="c n" style="left:472px;top:1578px;width:80px">121</div>
<div class="c n" style="left:553px;top:1578px;width:80px">10</div>
<div class="c n" style="left:634px;top:1578px;width:80px">18</div>
<div class="c m" style="left:26px;top:1608px;width:121px">BK-2500<span class="tp">(</span><span class="tc">铜</span><span class="tp">)</span></div>
<div class="c n" style="left:148px;top:1608px;width:80px">190</div>
<div class="c n" style="left:229px;top:1608px;width:80px">225</div>
<div class="c n" style="left:310px;top:1608px;width:80px">250</div>
<div class="c n" style="left:391px;top:1608px;width:80px">130</div>
<div class="c n" style="left:472px;top:1608px;width:80px">146</div>
<div class="c n" style="left:553px;top:1608px;width:80px">10</div>
<div class="c n" style="left:634px;top:1608px;width:80px">18</div>
<div class="c m" style="left:26px;top:1638px;width:121px">BK-3000<span class="tp">(</span><span class="tc">铜</span><span class="tp">)</span></div>
<div class="c n" style="left:148px;top:1638px;width:80px">190</div>
<div class="c n" style="left:229px;top:1638px;width:80px">225</div>
<div class="c n" style="left:310px;top:1638px;width:80px">250</div>
<div class="c n" style="left:391px;top:1638px;width:80px">130</div>
<div class="c n" style="left:472px;top:1638px;width:80px">146</div>
<div class="c n" style="left:553px;top:1638px;width:80px">10</div>
<div class="c n" style="left:634px;top:1638px;width:80px">18</div>
<div class="c m" style="left:26px;top:1668px;width:121px">BK-4000<span class="tp">(</span><span class="tc">铜</span><span class="tp">)</span></div>
<div class="c n" style="left:148px;top:1668px;width:80px">240</div>
<div class="c n" style="left:229px;top:1668px;width:80px">265</div>
<div class="c n" style="left:310px;top:1668px;width:80px">310</div>
<div class="c n" style="left:391px;top:1668px;width:80px">130</div>
<div class="c n" style="left:472px;top:1668px;width:80px">150</div>
<div class="c n" style="left:553px;top:1668px;width:80px">10</div>
<div class="c n" style="left:634px;top:1668px;width:80px">18</div>
<div class="c m" style="left:26px;top:1698px;width:121px">BK-5000<span class="tp">(</span><span class="tc">铜</span><span class="tp">)</span></div>
<div class="c n" style="left:148px;top:1698px;width:80px">240</div>
<div class="c n" style="left:229px;top:1698px;width:80px">265</div>
<div class="c n" style="left:310px;top:1698px;width:80px">310</div>
<div class="c n" style="left:391px;top:1698px;width:80px">130</div>
<div class="c n" style="left:472px;top:1698px;width:80px">150</div>
<div class="c n" style="left:553px;top:1698px;width:80px">10</div>
<div class="c n" style="left:634px;top:1698px;width:80px">18</div>
<div class="c m" style="left:26px;top:1728px;width:121px">BK-7000<span class="tp">(</span><span class="tc">铜</span><span class="tp">)</span></div>
<div class="c n" style="left:148px;top:1728px;width:80px">240</div>
<div class="c n" style="left:229px;top:1728px;width:80px">295</div>
<div class="c n" style="left:310px;top:1728px;width:80px">310</div>
<div class="c n" style="left:391px;top:1728px;width:80px">130</div>
<div class="c n" style="left:472px;top:1728px;width:80px">175</div>
<div class="c n" style="left:553px;top:1728px;width:80px">10</div>
<div class="c n" style="left:634px;top:1728px;width:80px">18</div>
<div class="c m" style="left:26px;top:1758px;width:121px">BK-8000<span class="tp">(</span><span class="tc">铜</span><span class="tp">)</span></div>
<div class="c n" style="left:148px;top:1758px;width:80px">360</div>
<div class="c n" style="left:229px;top:1758px;width:80px">280</div>
<div class="c n" style="left:310px;top:1758px;width:80px">370</div>
<div class="c n" style="left:391px;top:1758px;width:80px">280</div>
<div class="c n" style="left:472px;top:1758px;width:80px">140</div>
<div class="c n" style="left:553px;top:1758px;width:80px">11</div>
<div class="c n" style="left:634px;top:1758px;width:80px">20</div>
<div class="c m" style="left:26px;top:1788px;width:121px">BK-10000<span class="tp">(</span><span class="tc">铜</span><span class="tp">)</span></div>
<div class="c n" style="left:148px;top:1788px;width:80px">360</div>
<div class="c n" style="left:229px;top:1788px;width:80px">300</div>
<div class="c n" style="left:310px;top:1788px;width:80px">370</div>
<div class="c n" style="left:391px;top:1788px;width:80px">280</div>
<div class="c n" style="left:472px;top:1788px;width:80px">150</div>
<div class="c n" style="left:553px;top:1788px;width:80px">11</div>
<div class="c n" style="left:634px;top:1788px;width:80px">20</div>
<div class="c m" style="left:26px;top:1818px;width:121px">BK-15000<span class="tp">(</span><span class="tc">铜</span><span class="tp">)</span></div>
<div class="c n" style="left:148px;top:1818px;width:80px">420</div>
<div class="c n" style="left:229px;top:1818px;width:80px">330</div>
<div class="c n" style="left:310px;top:1818px;width:80px">460</div>
<div class="c n" style="left:391px;top:1818px;width:80px">280</div>
<div class="c n" style="left:472px;top:1818px;width:80px">150</div>
<div class="c n" style="left:553px;top:1818px;width:80px">11</div>
<div class="c n" style="left:634px;top:1818px;width:80px">20</div>
<div class="c m" style="left:26px;top:1848px;width:121px">BK-20000<span class="tp">(</span><span class="tc">铜</span><span class="tp">)</span></div>
<div class="c n" style="left:148px;top:1848px;width:80px">420</div>
<div class="c n" style="left:229px;top:1848px;width:80px">350</div>
<div class="c n" style="left:310px;top:1848px;width:80px">460</div>
<div class="c n" style="left:391px;top:1848px;width:80px">280</div>
<div class="c n" style="left:472px;top:1848px;width:80px">170</div>
<div class="c n" style="left:553px;top:1848px;width:80px">11</div>
<div class="c n" style="left:634px;top:1848px;width:80px">20</div>
<div class="c m" style="left:26px;top:1878px;width:121px">BK-30000<span class="tp">(</span><span class="tc">铜</span><span class="tp">)</span></div>
<div class="c n" style="left:148px;top:1878px;width:80px">480</div>
<div class="c n" style="left:229px;top:1878px;width:80px">360</div>
<div class="c n" style="left:310px;top:1878px;width:80px">520</div>
<div class="c n" style="left:391px;top:1878px;width:80px">280</div>
<div class="c n" style="left:472px;top:1878px;width:80px">170</div>
<div class="c n" style="left:553px;top:1878px;width:80px">11</div>
<div class="c n" style="left:634px;top:1878px;width:80px">20</div>
<div class="c m" style="left:26px;top:1908px;width:121px">BK-40000<span class="tp">(</span><span class="tc">铜</span><span class="tp">)</span></div>
<div class="c n" style="left:148px;top:1908px;width:80px">520</div>
<div class="c n" style="left:229px;top:1908px;width:80px">380</div>
<div class="c n" style="left:310px;top:1908px;width:80px">540</div>
<div class="c n" style="left:391px;top:1908px;width:80px">360</div>
<div class="c n" style="left:472px;top:1908px;width:80px">180</div>
<div class="c n" style="left:553px;top:1908px;width:80px">11</div>
<div class="c n" style="left:634px;top:1908px;width:80px">20</div>
<div class="c m" style="left:26px;top:1938px;width:121px">BK-50000<span class="tp">(</span><span class="tc">铜</span><span class="tp">)</span></div>
<div class="c n" style="left:148px;top:1938px;width:80px">520</div>
<div class="c n" style="left:229px;top:1938px;width:80px">380</div>
<div class="c n" style="left:310px;top:1938px;width:80px">600</div>
<div class="c n" style="left:391px;top:1938px;width:80px">360</div>
<div class="c n" style="left:472px;top:1938px;width:80px">180</div>
<div class="c n" style="left:553px;top:1938px;width:80px">11</div>
<div class="c n" style="left:634px;top:1938px;width:80px">20</div></body></html>
